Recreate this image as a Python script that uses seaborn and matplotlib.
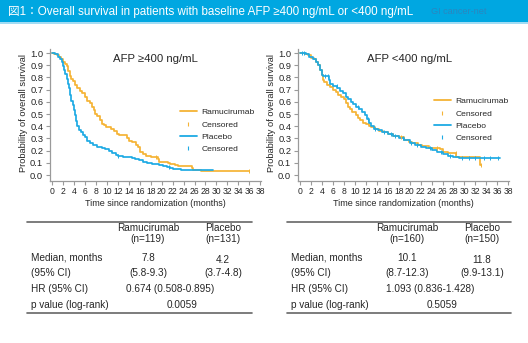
import numpy as np
import pandas as pd
import matplotlib
matplotlib.use("Agg")
import matplotlib.pyplot as plt
from matplotlib.lines import Line2D
from matplotlib.patches import Rectangle
import seaborn as sns

# ---------------------------------------------------------------- data
# Kaplan-Meier step points (months, survival probability), AFP >= 400 ng/mL
high_ram_t = [0, 0.4, 0.8, 1.2, 1.6, 2.0, 2.3, 2.6, 2.9, 3.2, 3.5, 3.85, 4.1, 4.5,
              5.0, 5.4, 5.9, 6.3, 6.9, 7.3, 7.6, 7.8, 8.2, 8.7, 9.0, 9.4, 9.9,
              10.8, 11.3, 11.8, 12.2, 13.6, 14.0, 14.5, 15.3, 15.7, 16.0, 16.5,
              17.2, 18.0, 19.3, 19.5, 21.2, 21.6, 22.5, 23.0, 25.5, 25.8, 27.2, 36.0]
high_ram_s = [1.0, 0.99, 0.98, 0.97, 0.95, 0.93, 0.91, 0.89, 0.85, 0.81, 0.79, 0.77,
              0.74, 0.71, 0.69, 0.67, 0.64, 0.61, 0.59, 0.56, 0.53, 0.50, 0.48, 0.45,
              0.42, 0.41, 0.39, 0.38, 0.36, 0.34, 0.33, 0.30, 0.28, 0.27, 0.25, 0.23,
              0.19, 0.17, 0.16, 0.145, 0.13, 0.11, 0.10, 0.09, 0.08, 0.07, 0.055,
              0.045, 0.03, 0.03]
high_ram_cens = [19.0, 36.0]

high_pla_t = [0, 0.5, 1.0, 1.5, 1.8, 2.0, 2.2, 2.4, 2.6, 2.9, 3.1, 3.3, 3.5, 3.7,
              3.9, 4.2, 4.4, 4.6, 4.9, 5.3, 5.7, 6.0, 6.4, 6.9, 7.5, 8.2, 9.0, 9.6,
              10.4, 11.0, 11.6, 12.0, 13.0, 14.5, 15.2, 15.8, 16.5, 17.3, 18.2,
              19.5, 20.2, 21.0, 21.5, 22.0, 23.5, 29.3]
high_pla_s = [1.0, 0.99, 0.97, 0.95, 0.93, 0.89, 0.86, 0.83, 0.79, 0.75, 0.71, 0.66,
              0.61, 0.57, 0.53, 0.49, 0.44, 0.40, 0.37, 0.35, 0.33, 0.31, 0.28, 0.26,
              0.245, 0.23, 0.22, 0.21, 0.20, 0.18, 0.165, 0.155, 0.15, 0.14, 0.13,
              0.12, 0.11, 0.10, 0.09, 0.085, 0.075, 0.065, 0.06, 0.05, 0.045, 0.045]
high_pla_cens = [12.0, 21.4]

# AFP < 400 ng/mL
low_ram_t = [0, 0.8, 1.5, 2.0, 2.5, 2.9, 3.3, 3.6, 3.9, 4.1, 4.4, 4.9, 5.4, 6.0,
             6.5, 6.9, 7.4, 7.9, 8.3, 8.7, 9.0, 9.4, 10.1, 10.6, 11.0, 11.5, 12.0,
             12.5, 13.0, 13.6, 14.3, 15.2, 16.0, 17.0, 18.0, 19.0, 19.8, 20.5,
             21.5, 22.3, 23.5, 25.5, 26.0, 27.0, 28.5, 32.8, 33.0]
low_ram_s = [1.0, 0.99, 0.98, 0.96, 0.95, 0.93, 0.90, 0.86, 0.82, 0.78, 0.76, 0.74,
             0.72, 0.70, 0.68, 0.66, 0.64, 0.62, 0.59, 0.56, 0.54, 0.52, 0.49, 0.47,
             0.45, 0.43, 0.42, 0.40, 0.39, 0.38, 0.36, 0.35, 0.34, 0.32, 0.31, 0.29,
             0.27, 0.26, 0.25, 0.24, 0.22, 0.21, 0.19, 0.18, 0.15, 0.08, 0.08]
low_ram_cens = [18.5, 25.0, 28.4, 33.0]

low_pla_t = [0, 1.0, 1.6, 2.3, 2.8, 3.3, 3.6, 3.9, 4.2, 5.2, 5.5, 6.0, 6.8, 7.3,
             7.8, 8.3, 8.8, 9.3, 9.7, 10.2, 10.7, 11.2, 11.8, 12.2, 12.5, 13.0,
             13.5, 14.2, 15.0, 16.0, 17.0, 18.0, 19.0, 20.0, 21.0, 22.0, 23.0,
             24.0, 25.0, 26.0, 27.0, 28.0, 29.0, 36.5]
low_pla_s = [1.0, 0.99, 0.97, 0.95, 0.93, 0.90, 0.86, 0.82, 0.81, 0.78, 0.75, 0.73,
             0.71, 0.69, 0.67, 0.64, 0.62, 0.60, 0.58, 0.56, 0.54, 0.52, 0.49, 0.46,
             0.43, 0.40, 0.38, 0.37, 0.355, 0.335, 0.32, 0.30, 0.285, 0.265, 0.25,
             0.23, 0.22, 0.205, 0.19, 0.17, 0.155, 0.145, 0.14, 0.14]
low_pla_cens = [0.3, 0.6, 4.6, 5.0, 6.7, 10.5, 12.4, 13.6, 15.3, 16.5, 17.4, 18.7,
                20.3, 21.3, 23.8, 25.8, 27.3, 29.6, 30.8, 32.0, 33.5, 34.6, 36.2]

arm_names = ["Ramucirumab", "Placebo"]
panel_titles = ["AFP \u2265400 ng/mL", "AFP <400 ng/mL"]
x_ticks = list(range(0, 39, 2))
y_ticks = [round(v * 0.1, 1) for v in range(11)]

# summary tables
n_high = ["(n=119)", "(n=131)"]
n_low = ["(n=160)", "(n=150)"]
median_high = ["7.8", "4.2"]
median_low = ["10.1", "11.8"]
ci_high = ["(5.8-9.3)", "(3.7-4.8)"]
ci_low = ["(8.7-12.3)", "(9.9-13.1)"]
hr_high = "0.674 (0.508-0.895)"
hr_low = "1.093 (0.836-1.428)"
p_high = "0.0059"
p_low = "0.5059"
row_labels = ["Median, months", "(95% CI)", "HR (95% CI)", "p value (log-rank)"]

# ---------------------------------------------------------------- style
ORANGE = "#F5B335"
BLUE = "#1EAAE4"
HEADER = "#00A7E1"
TXT = "#262626"
SPINE = "#9a9a9a"

sns.set_theme(style="ticks")
plt.rcParams["font.family"] = ["Liberation Sans", "Noto Sans CJK JP", "DejaVu Sans"]

W, H = 528, 343
fig = plt.figure(figsize=(W / 100, H / 100), dpi=100)
fig.patch.set_facecolor("white")


def fx(px):
    return px / W


def fy(py):
    return 1 - py / H


# header band
fig.add_artist(Rectangle((0, fy(22)), 1, 22 / H, transform=fig.transFigure,
                         facecolor=HEADER, edgecolor="none"))
fig.add_artist(Line2D([0, 1], [fy(22.5), fy(22.5)], transform=fig.transFigure,
                      color="#8fd5f2", lw=1.2))
fig.text(fx(8), fy(11.5), "図1：Overall survival in patients with baseline AFP \u2265400 ng/mL or <400 ng/mL",
         color="white", fontsize=8.4, ha="left", va="center")
fig.text(fx(431), fy(12), "GI cancer-net", color="#2b86bf", fontsize=6.6,
         ha="left", va="center")


def draw_panel(box, xoff, title_x, title, curves):
    x0, x1, ytop, ybot = box
    ax = fig.add_axes([fx(x0), fy(ybot), (x1 - x0) / W, (ybot - ytop) / H])
    for name, t, s, cens, color in curves:
        df = pd.DataFrame({"time": t, "surv": s})
        sns.lineplot(data=df, x="time", y="surv", ax=ax, color=color, lw=1.25,
                     drawstyle="steps-post", estimator=None, sort=False, legend=False)
        idx = np.searchsorted(np.asarray(t), cens, side="right") - 1
        cdf = pd.DataFrame({"time": cens, "surv": np.asarray(s)[idx]})
        sns.scatterplot(data=cdf, x="time", y="surv", ax=ax, marker="|", s=7,
                        color=color, linewidth=0.7, legend=False, zorder=3)
    ax.set_xlim(-0.51, 38.15)
    ax.set_ylim(-0.049, 1.033)
    ax.set_xticks(x_ticks)
    ax.set_xticklabels([str(v) for v in x_ticks])
    ax.set_yticks(y_ticks)
    ax.set_yticklabels([f"{v:.1f}" for v in y_ticks])
    ax.set_xlabel("")
    ax.set_ylabel("")
    sns.despine(ax=ax)
    for side in ("left", "bottom"):
        ax.spines[side].set_color(SPINE)
        ax.spines[side].set_linewidth(0.9)
    ax.tick_params(length=3, width=0.8, color=SPINE, labelcolor=TXT, pad=1.5)
    ax.tick_params(axis="x", labelsize=6.2)
    ax.tick_params(axis="y", labelsize=6.7)
    ax.set_facecolor("none")
    fig.text(fx(title_x), fy(59), title, fontsize=8.2, color=TXT,
             ha="center", va="center")
    fig.text(fx(xoff - 29), fy(113), "Probability of overall survival",
             rotation=90, fontsize=6.7, color=TXT, ha="center", va="center")
    fig.text(fx(xoff + 103), fy(204), "Time since randomization (months)",
             fontsize=6.5, color=TXT, ha="center", va="center")
    return ax


def draw_legend(ax, left_px, top_px):
    handles = [
        Line2D([], [], color=ORANGE, lw=1.3),
        Line2D([], [], color=ORANGE, ls="none", marker="|", markersize=3, mew=0.8),
        Line2D([], [], color=BLUE, lw=1.3),
        Line2D([], [], color=BLUE, ls="none", marker="|", markersize=3, mew=0.8),
    ]
    labels = [arm_names[0], "Censored", arm_names[1], "Censored"]
    ax.legend(handles, labels, loc="upper left", bbox_to_anchor=(fx(left_px), fy(top_px)),
              bbox_transform=fig.transFigure, frameon=False, fontsize=6.1,
              handlelength=2.0, handletextpad=0.5, labelspacing=0.5,
              borderpad=0, borderaxespad=0, labelcolor=TXT)


ax_l = draw_panel((49.5, 261, 49, 181), 52.3, 155, panel_titles[0], [
    (arm_names[0], high_ram_t, high_ram_s, high_ram_cens, ORANGE),
    (arm_names[1], high_pla_t, high_pla_s, high_pla_cens, BLUE),
])
draw_legend(ax_l, 180, 108.5)

ax_r = draw_panel((297.5, 509, 49, 181), 300.3, 410, panel_titles[1], [
    (arm_names[0], low_ram_t, low_ram_s, low_ram_cens, ORANGE),
    (arm_names[1], low_pla_t, low_pla_s, low_pla_cens, BLUE),
])
draw_legend(ax_r, 434, 97.5)


def draw_table(xl, xr, x_lab, x_c1, x_c2, x_hr, x_p, n, med, ci, hr, p):
    for yy in (221.5, 312.5):
        fig.add_artist(Line2D([fx(xl), fx(xr)], [fy(yy), fy(yy)],
                              transform=fig.transFigure, color="#666666", lw=1.2))
    kw = dict(fontsize=7.2, color=TXT, va="center")
    fig.text(fx(x_c1), fy(228), arm_names[0], ha="center", **kw)
    fig.text(fx(x_c2), fy(228), arm_names[1], ha="center", **kw)
    fig.text(fx(x_c1), fy(239), n[0], ha="center", **kw)
    fig.text(fx(x_c2), fy(239), n[1], ha="center", **kw)
    rows_y = [258, 273, 289, 305]
    for lab, yy in zip(row_labels, rows_y):
        fig.text(fx(x_lab), fy(yy), lab, ha="left", **kw)
    fig.text(fx(x_c1), fy(258), med[0], ha="center", **kw)
    fig.text(fx(x_c2), fy(260), med[1], ha="center", **kw)
    fig.text(fx(x_c1), fy(273), ci[0], ha="center", **kw)
    fig.text(fx(x_c2), fy(273), ci[1], ha="center", **kw)
    fig.text(fx(x_hr), fy(289), hr, ha="center", **kw)
    fig.text(fx(x_p), fy(305), p, ha="center", **kw)


draw_table(27, 252, 31, 148, 223, 170, 182, n_high, median_high, ci_high, hr_high, p_high)
draw_table(287, 511, 291, 407, 482, 430, 442, n_low, median_low, ci_low, hr_low, p_low)

fig.savefig("out.png", dpi=100)
